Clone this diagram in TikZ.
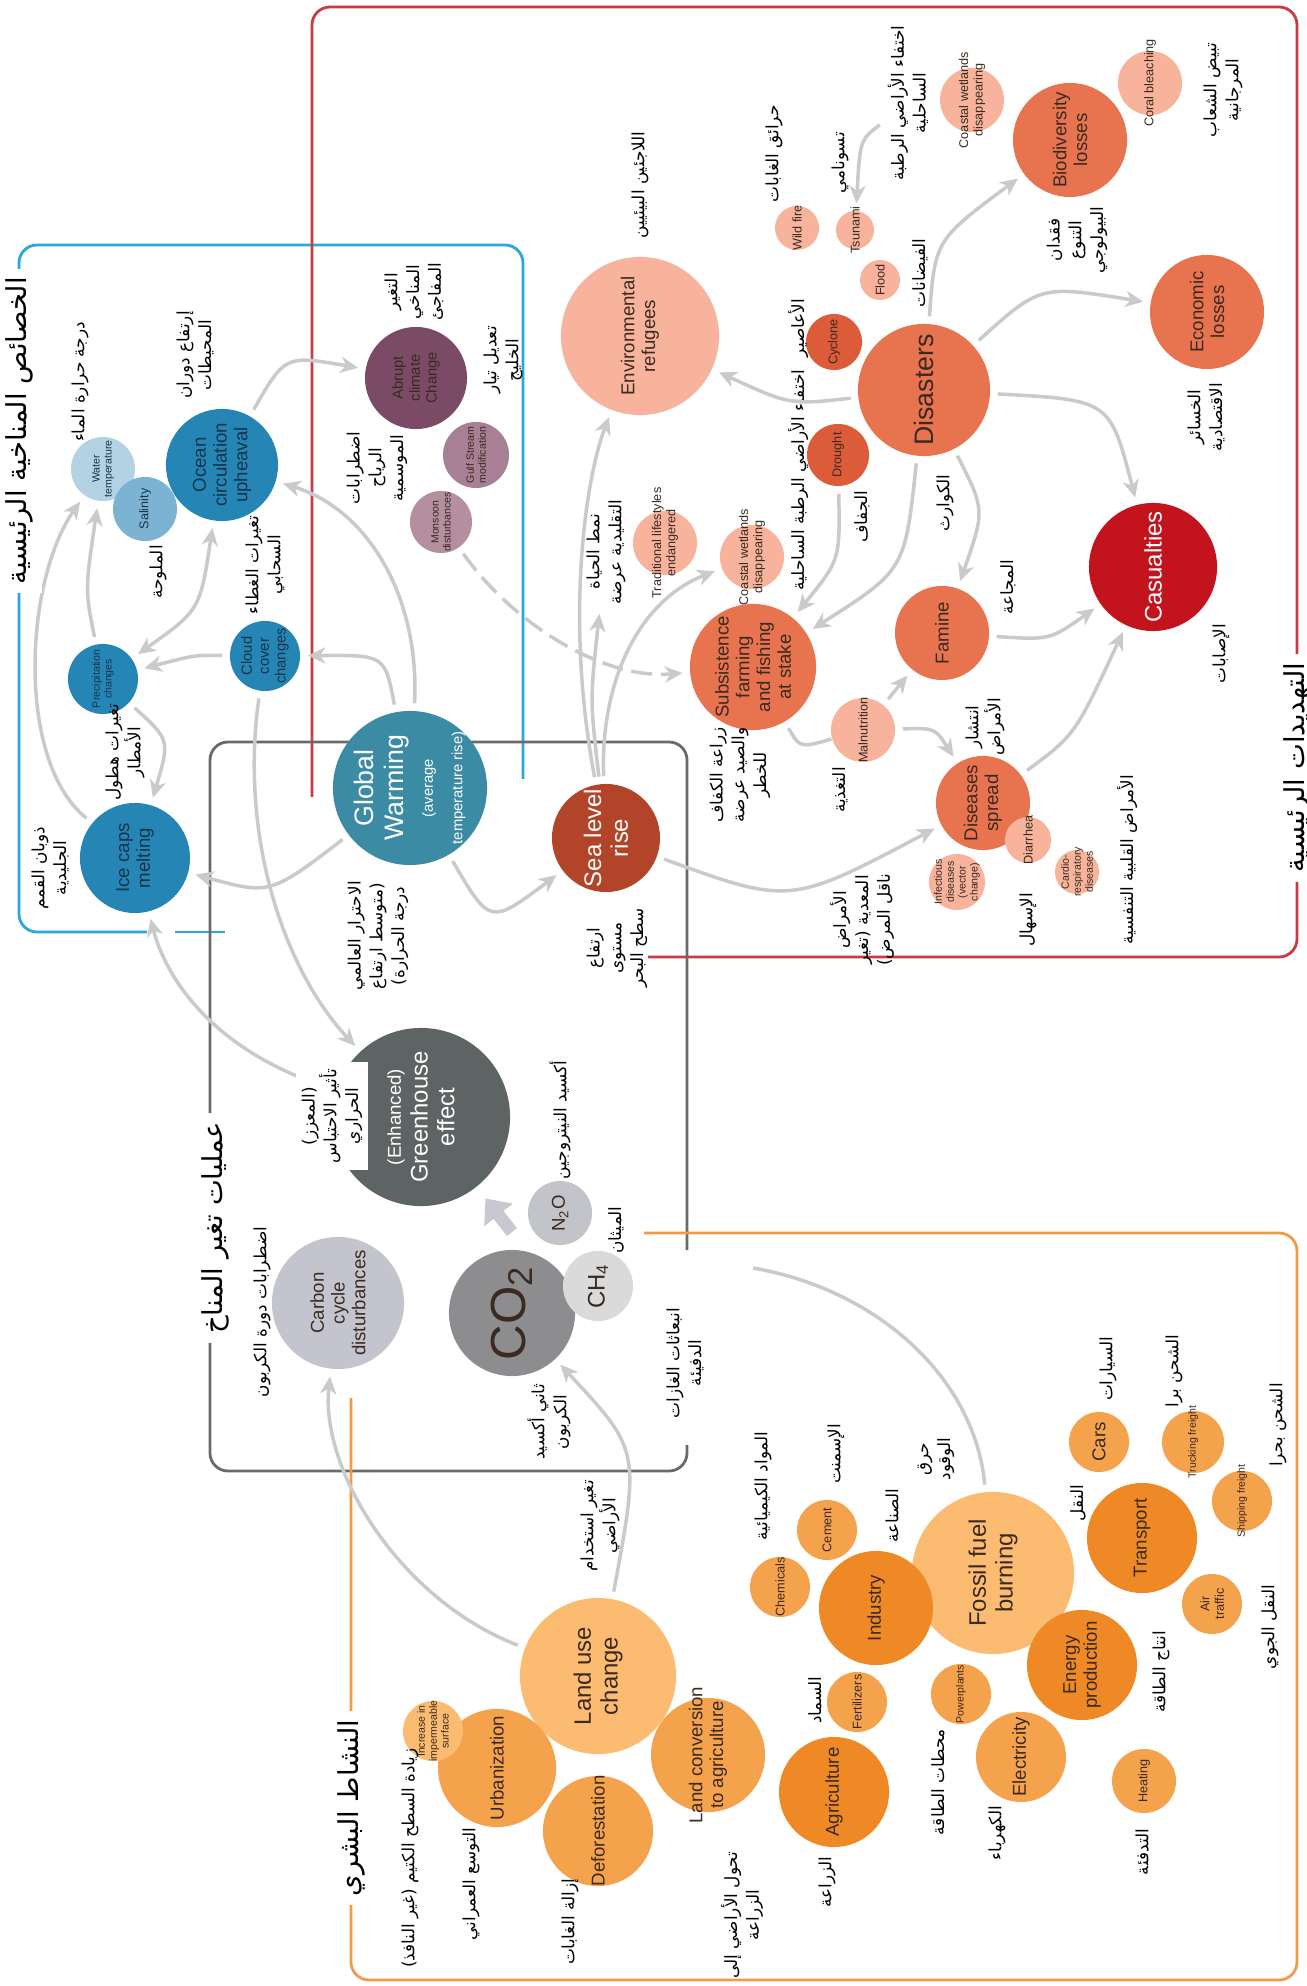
\documentclass[tikz,border=0pt]{standalone}
\usepackage{fontspec}
\setmainfont{Liberation Sans}
\newfontfamily\arabicfont[Script=Arabic]{DejaVu Sans}
\TeXXeTstate=1
\usetikzlibrary{arrows.meta}

\definecolor{txtc}{HTML}{3A2A22}
\definecolor{navyc}{HTML}{16344A}
\definecolor{bluec}{HTML}{2586B6}
\definecolor{gwc}{HTML}{3C8BA5}
\definecolor{wtc}{HTML}{B3D2E3}
\definecolor{salc}{HTML}{7DB3D2}
\definecolor{abruptc}{HTML}{7A4A66}
\definecolor{gulfc}{HTML}{A88096}
\definecolor{monsc}{HTML}{B58E9F}
\definecolor{coralc}{HTML}{E8734F}
\definecolor{coraldk}{HTML}{DC5C3A}
\definecolor{salmonc}{HTML}{F7B39B}
\definecolor{casc}{HTML}{C3131D}
\definecolor{seac}{HTML}{B2442A}
\definecolor{orgL}{HTML}{FBBB70}
\definecolor{orgM}{HTML}{F5A24D}
\definecolor{orgD}{HTML}{EE8926}
\definecolor{ghec}{HTML}{5E6364}
\definecolor{co2c}{HTML}{8D8D8F}
\definecolor{ch4c}{HTML}{DADADA}
\definecolor{n2oc}{HTML}{C3C4C9}
\definecolor{carbc}{HTML}{C4C4CE}
\definecolor{arrc}{HTML}{C9CACC}
\definecolor{fatc}{HTML}{C8C9D0}
\definecolor{boxblue}{HTML}{2BA7E0}
\definecolor{boxred}{HTML}{C93A43}
\definecolor{boxgrey}{HTML}{6A6A6A}
\definecolor{boxorange}{HTML}{F29A48}

\newcommand\szhuge{\fontsize{14}{15}\selectfont}
\newcommand\szxl{\fontsize{7.6}{8.4}\selectfont}
\newcommand\szl{\fontsize{6.8}{7.6}\selectfont}
\newcommand\szm{\fontsize{5.3}{5.9}\selectfont}
\newcommand\szs{\fontsize{4.2}{4.8}\selectfont}
\newcommand\szxs{\fontsize{3.6}{4.1}\selectfont}
\newcommand\szxxs{\fontsize{3}{3.4}\selectfont}
\newcommand\szar{\arabicfont\fontsize{4.8}{6.2}\selectfont}
\newcommand\sztitle{\arabicfont\fontsize{7.8}{9}\selectfont}
\newcommand\arb[1]{\beginR #1\endR}
% circle of fixed size, its text set apart so that it may overflow
\newcommand\bubble[6]{%
  \node[bub, rad=#3, fill=#4] (#1) at (#2) {};
  \node[intxt, #5] (#1-t) at (#1.center) {#6};}

\tikzset{
  bub/.style={circle, inner sep=0pt},
  rad/.style={minimum size=#1*0.02cm},
  intxt/.style={rotate=90, align=center, inner sep=0pt, text=txtc},
  lab/.style={rotate=90, align=center, inner sep=0.5pt, font=\szar},
  ttl/.style={rotate=90, fill=white, inner sep=2.5pt, font=\sztitle},
  arr/.style={draw=arrc, line width=1pt, ->, shorten >=2pt, shorten <=2pt},
  arrplain/.style={draw=arrc, line width=1pt, shorten <=2pt},
  fatarr/.style={draw=fatc, line width=3.6pt, -{Triangle[length=6pt,width=10pt]}, shorten >=4pt},
  boxline/.style={line width=0.8pt, rounded corners=1.8mm},
  >={Stealth[length=5pt,width=4.6pt,inset=1.5pt]}
}

\begin{document}
\begin{tikzpicture}[x=0.01cm, y=-0.01cm]
\useasboundingbox (0,0) rectangle (1307,1986);

% frames
\draw[boxline, draw=boxblue] (523,779) -- (523,245) -- (19,245) -- (19,932) -- (147,932);
\draw[boxline, draw=boxblue] (175,932) -- (225,932);
\draw[boxline, draw=boxred] (312,797) -- (312,7) -- (1297,7) -- (1297,957) -- (648,957);
\draw[boxline, draw=boxgrey] (687,1250) -- (687,742) -- (210,742) -- (210,1471) -- (687,1471) -- (687,1445);
\draw[boxline, draw=boxorange] (644,1233) -- (1297,1233) -- (1297,1980) -- (351,1980) -- (351,1398);

% climate
\bubble{wtemp}{103,469}{32}{wtc}{text=navyc, font=\szxxs}{Water\\temperature}
\bubble{salin}{145,509}{32}{salc}{text=navyc, font=\szxs}{Salinity}
\bubble{ocean}{222,465}{56}{bluec}{text=navyc, font=\szm}{Ocean\\circulation\\upheaval}
\bubble{cloud}{265,656}{35}{bluec}{text=navyc, font=\szs}{Cloud\\cover\\changes}
\bubble{precip}{103,679}{35}{bluec}{text=navyc, font=\szxxs}{Precipitation\\changes}
\bubble{ice}{135,858}{55}{bluec}{text=navyc, font=\szm}{Ice caps\\melting}
\bubble{abrupt}{416,378}{51}{abruptc}{font=\szs}{Abrupt\\climate\\Change}
\bubble{gulf}{476,455}{33}{gulfc}{font=\szxxs}{Gulf Stream\\modification}
\bubble{monsoon}{441,522}{31}{monsc}{font=\szxxs}{Monsoon\\disturbances}
\bubble{gw}{410,788}{77}{gwc}{text=white, font=\szxl}{Global\\Warming\\{\szs(average}\\{\szs temperature rise)}}
\bubble{sea}{606,838}{54}{seac}{text=white, font=\szl}{Sea level\\rise}

% threats
\bubble{refug}{640,336}{79}{salmonc}{font=\szm}{Environmental\\refugees}
\bubble{trad}{665,543}{32}{salmonc}{font=\szxs}{Traditional lifestyles\\endangered}
\bubble{coasta}{752,557}{32}{salmonc}{font=\szxs}{Coastal wetlands\\disappearing}
\bubble{subsist}{753,667}{63}{coralc}{font=\szm}{Subsistence\\farming\\and fishing\\at stake}
\bubble{malnut}{863,730}{32}{salmonc}{font=\szxs}{Malnutrition}
\bubble{famine}{942,633}{47}{coralc}{font=\szm}{Famine}
\bubble{casual}{1153,567}{64}{casc}{text=white, font=\szl}{Casualties}
\bubble{disease}{983,803}{47}{coralc}{font=\szm}{Diseases\\spread}
\bubble{diarr}{1028,840}{23}{salmonc}{font=\szxs}{Diarrhea}
\bubble{cardio}{1077,872}{22}{salmonc}{font=\szxxs}{Cardio-\\respiratory\\diseases}
\bubble{infect}{957,882}{28}{salmonc}{font=\szxxs}{Infectious\\diseases\\(vector\\change)}
\bubble{disast}{924,390}{66}{coralc}{font=\szxl}{Disasters}
\bubble{drought}{838,455}{31}{coraldk}{font=\szxs}{Drought}
\bubble{cyclone}{834,342}{28}{coraldk}{font=\szxs}{Cyclone}
\bubble{flood}{880,280}{20}{salmonc}{font=\szxs}{Flood}
\bubble{tsunami}{855,230}{19}{salmonc}{font=\szxs}{Tsunami}
\bubble{wildfire}{797,228}{22}{salmonc}{font=\szxs}{Wild fire}
\bubble{coastb}{972,100}{32}{salmonc}{font=\szxs}{Coastal wetlands\\disappearing}
\bubble{biodiv}{1070,140}{57}{coralc}{font=\szm}{Biodiversity\\losses}
\bubble{coral}{1150,83}{32}{salmonc}{font=\szxs}{Coral bleaching}
\bubble{econ}{1207,312}{57}{coralc}{font=\szm}{Economic\\losses}

% processes
\bubble{ghe}{421,1117}{89}{ghec}{text=white, font=\szl}{{\szm(Enhanced)}\\Greenhouse\\effect}
\bubble{carbon}{338,1303}{66}{carbc}{font=\szm}{Carbon\\cycle\\disturbances}
\bubble{co2}{512,1313}{63}{co2c}{font=\szhuge}{CO\textsubscript{2}}
\bubble{ch4}{598,1286}{35}{ch4c}{font=\szl}{CH\textsubscript{4}}
\bubble{n2o}{560,1213}{32}{n2oc}{font=\szm}{N\textsubscript{2}O}
\coordinate (ghgsrc) at (512,1232);

% human activity
\bubble{landuse}{598,1676}{78}{orgL}{font=\szl}{Land use\\change}
\bubble{urban}{497,1768}{59}{orgM}{font=\szm}{Urbanization}
\bubble{imperm}{433,1731}{30}{orgL}{font=\szxxs}{Increase in\\impermeable\\surface}
\bubble{defor}{598,1831}{55}{orgM}{font=\szm}{Deforestation}
\bubble{landconv}{708,1755}{57}{orgM}{font=\szm}{Land conversion\\to agriculture}
\bubble{agri}{834,1792}{55}{orgD}{font=\szm}{Agriculture}
\bubble{fert}{857,1702}{30}{orgM}{font=\szxs}{Fertilizers}
\bubble{fossil}{993,1573}{81}{orgL}{font=\szl}{Fossil fuel\\burning}
\bubble{industry}{876,1608}{57}{orgD}{font=\szm}{Industry}
\bubble{chem}{780,1587}{30}{orgM}{font=\szxs}{Chemicals}
\bubble{cement}{827,1530}{30}{orgM}{font=\szxs}{Cement}
\bubble{power}{961,1694}{30}{orgM}{font=\szxxs}{Powerplants}
\bubble{elec}{1021,1757}{45}{orgM}{font=\szm}{Electricity}
\bubble{energy}{1082,1665}{55}{orgD}{font=\szm}{Energy\\production}
\bubble{heating}{1144,1781}{32}{orgM}{font=\szxs}{Heating}
\bubble{transport}{1142,1538}{55}{orgD}{font=\szm}{Transport}
\bubble{air}{1212,1604}{30}{orgM}{font=\szxs}{Air\\traffic}
\bubble{cars}{1099,1442}{30}{orgM}{font=\szm}{Cars}
\bubble{truck}{1193,1442}{31}{orgM}{font=\szxxs}{Trucking freight}
\bubble{ship}{1242,1501}{30}{orgM}{font=\szxxs}{Shipping freight}
\coordinate (fossend) at (753,1268);

% arabic labels
\node[lab] (lbwtemp) at (80,382) {\arb{درجة حرارة الماء}};
\node[lab] (lbsalin) at (158,572) {\arb{الملوحة}};
\node[lab] (lbocean) at (195,355) {\arb{إرتفاع دوران}\\\arb{المحيطات}};
\node[lab] (lbcloud) at (265,565) {\arb{تغيرات الغطاء}\\\arb{السحابي}};
\node[lab] (lbprecip) at (125,752) {\arb{تغيرات هطول}\\\arb{الأمطار}};
\node[lab] (lbice) at (50,868) {\arb{ذوبان القمم}\\\arb{الجليدية}};
\node[lab] (lbabrupt) at (414,292) {\arb{التغير}\\\arb{المناخي}\\\arb{المفاجئ}};
\node[lab] (lbgulf) at (503,360) {\arb{تعديل تيار}\\\arb{الخليج}};
\node[lab] (lbmons) at (377,468) {\arb{اضطرابات}\\\arb{الرياح}\\\arb{الموسمية}};
\node[lab] (lbgw) at (378,936) {\arb{الاحترار العالمي}\\\arb{(متوسط ارتفاع}\\\arb{درجة الحرارة)}};
\node[lab] (lbsea) at (617,948) {\arb{ارتفاع}\\\arb{مستوى}\\\arb{سطح البحر}};
\node[lab] (lbn2o) at (560,1120) {\arb{أكسيد النيتروجين}};
\node[lab] (lbch4) at (616,1230) {\arb{الميثان}};
\node[lab] (lbco2) at (549,1422) {\arb{ثاني أكسيد}\\\arb{الكربون}};
\node[lab] (lbcarb) at (262,1312) {\arb{اضطرابات دورة الكربون}};
\node[lab] (lbghg) at (685,1363) {\arb{انبعاثات الغازات}\\\arb{الدفيئة}};
\node[lab] (lbrefug) at (640,185) {\arb{اللاجئين البيئيين}};
\node[lab] (lbtrad) at (606,552) {\arb{نمط الحياة}\\\arb{التقليدية عرضة}};
\node[lab] (lbcoasta) at (798,480) {\arb{اختفاء الأراضي الرطبة الساحلية}};
\node[lab] (lbsubs) at (740,775) {\arb{زراعة الكفاف}\\\arb{والصيد عرضة}\\\arb{للخطر}};
\node[lab] (lbmal) at (840,790) {\arb{التغذية}};
\node[lab] (lbfam) at (1008,587) {\arb{المجاعة}};
\node[lab] (lbcas) at (1221,654) {\arb{الإصابات}};
\node[lab] (lbdis) at (985,727) {\arb{انتشار}\\\arb{الأمراض}};
\node[lab] (lbdiar) at (1028,920) {\arb{الإسهال}};
\node[lab] (lbcard) at (1127,860) {\arb{الأمراض القلبية التنفسية}};
\node[lab] (lbinf) at (862,920) {\arb{الأمراض}\\\arb{المعدية (تغير}\\\arb{ناقل المرض)}};
\node[lab] (lbdisast) at (945,503) {\arb{الكوارث}};
\node[lab] (lbdrought) at (862,517) {\arb{الجفاف}};
\node[lab] (lbcyc) at (798,328) {\arb{الأعاصير}};
\node[lab] (lbflood) at (920,273) {\arb{الفيضانات}};
\node[lab] (lbtsu) at (840,163) {\arb{تسونامي}};
\node[lab] (lbwild) at (774,154) {\arb{حرائق الغابات}};
\node[lab] (lbcoastb) at (908,103) {\arb{اختفاء الأراضي الرطبة}\\\arb{الساحلية}};
\node[lab] (lbbio) at (1077,240) {\arb{فقدان}\\\arb{التنوع}\\\arb{البيولوجي}};
\node[lab] (lbcoral) at (1223,90) {\arb{تبيض الشعاب}\\\arb{المرجانية}};
\node[lab] (lbecon) at (1206,417) {\arb{الخسائر}\\\arb{الاقتصادية}};
\node[lab] (lbland) at (600,1526) {\arb{تغير استخدام}\\\arb{الأراضي}};
\node[lab] (lbimp) at (410,1858) {\arb{زيادة السطح الكتيم (غير النافذ)}};
\node[lab] (lburb) at (471,1884) {\arb{التوسع العمراني}};
\node[lab] (lbdef) at (570,1922) {\arb{إزالة الغابات}};
\node[lab] (lbconv) at (742,1915) {\arb{تحول الأراضي إلى}\\\arb{الزراعة}};
\node[lab] (lbagri) at (827,1882) {\arb{الزراعة}};
\node[lab] (lbfert) at (815,1700) {\arb{السماد}};
\node[lab] (lbchem) at (763,1486) {\arb{المواد الكيميائية}};
\node[lab] (lbcem) at (836,1454) {\arb{الإسمنت}};
\node[lab] (lbind) at (892,1516) {\arb{الصناعة}};
\node[lab] (lbfoss) at (936,1459) {\arb{حرق}\\\arb{الوقود}};
\node[lab] (lbpow) at (938,1782) {\arb{محطات الطاقة}};
\node[lab] (lbelec) at (997,1833) {\arb{الكهرباء}};
\node[lab] (lbener) at (1161,1672) {\arb{انتاج الطاقة}};
\node[lab] (lbheat) at (1142,1852) {\arb{التدفئة}};
\node[lab] (lbtrans) at (1078,1503) {\arb{النقل}};
\node[lab] (lbcars) at (1108,1369) {\arb{السيارات}};
\node[lab] (lbtruck) at (1174,1371) {\arb{الشحن برا}};
\node[lab] (lbship) at (1278,1425) {\arb{الشحن بحرا}};
\node[lab] (lbair) at (1270,1627) {\arb{النقل الجوي}};

% connectors
\draw[arr] (gw) .. controls (270,895) .. (ice);
\draw[arr] (gw) .. controls (385,655) .. (cloud);
\draw[arr] (gw) .. controls (420,600) and (370,510) .. (ocean);
\draw[arr] (ocean) .. controls (285,355) .. (abrupt);
\draw[arr, <->] (precip) .. controls (200,610) .. (ocean);
\draw[arr] (cloud) .. controls (195,655) .. (precip);
\draw[arr] (precip) .. controls (85,590) .. (wtemp);
\draw[arr] (ice) .. controls (15,760) and (25,580) .. (wtemp);
\draw[arr] (precip) .. controls (170,740) .. (ice);
\draw[arr] (gw) .. controls (490,925) .. (sea);
\draw[arr] (cloud) .. controls (240,830) and (280,965) .. (ghe);
\draw[arr] (ghe) .. controls (210,1050) and (165,975) .. (ice);
\draw[fatarr] (ghgsrc) -- (ghe);
\draw[arr] (landuse) .. controls (400,1600) and (320,1470) .. (carbon);
\draw[arr] (landuse) .. controls (640,1450) .. (co2);
\draw[arrplain] (fossil) .. controls (975,1380) and (880,1290) .. (fossend);
\draw[arr] (sea) .. controls (565,620) and (585,480) .. (refug);
\draw[arr] (sea) .. controls (590,700) .. (lbtrad);
\draw[arr] (sea) .. controls (600,680) and (640,600) .. (coasta);
\draw[arr, dash pattern=on 6pt off 2.5pt] (monsoon) .. controls (510,620) and (600,680) .. (subsist);
\draw[arr] (sea) .. controls (790,905) .. (disease);
\draw[arr] (disast) .. controls (790,405) .. (refug);
\draw[arr] (disast) .. controls (935,240) .. (biodiv);
\draw[arr] (disast) .. controls (1040,285) .. (econ);
\draw[arr] (disast) .. controls (1110,400) .. (casual);
\draw[arr] (disast) .. controls (985,510) .. (famine);
\draw[arr] (disast) .. controls (905,570) .. (subsist);
\draw[arr] (drought) .. controls (840,560) .. (subsist);
\draw[arr] (lbcoastb) .. controls (860,140) .. (tsunami);
\draw[arr] (famine) .. controls (1050,640) .. (casual);
\draw[arr] (disease) .. controls (1075,735) .. (casual);
\draw[arrplain] (subsist) .. controls (800,748) .. (malnut);
\draw[arr] (malnut) -- (famine);
\draw[arr] (malnut) .. controls (935,728) .. (disease);

% white tag on the greenhouse circle
\node[rotate=90, fill=white, align=center, inner sep=0pt, minimum width=1.07cm, minimum height=0.72cm, font=\szar] (lbghe) at (332,1116) {\arb{(المعزز)}\\\arb{تأثير الاحتباس}\\\arb{الحراري}};

% titles
\node[ttl] (ttclim) at (19,431) {\arb{الخصائص المناخية الرئيسية}};
\node[ttl] (ttthreat) at (1297,768) {\arb{التهديدات الرئيسية}};
\node[ttl] (ttproc) at (215,1228) {\arb{عمليات تغير المناخ}};
\node[ttl] (tthuman) at (351,1808) {\arb{النشاط البشري}};
\end{tikzpicture}
\end{document}
